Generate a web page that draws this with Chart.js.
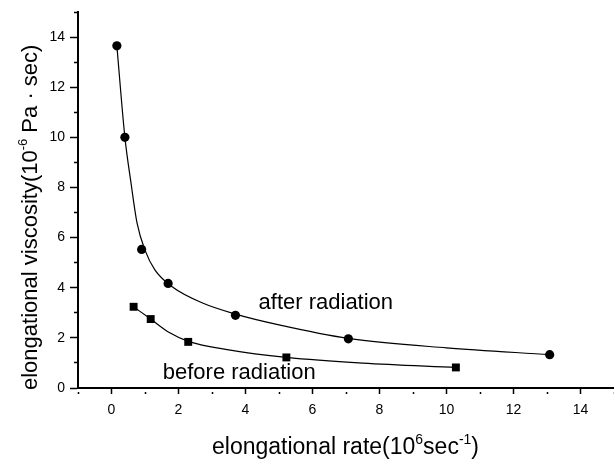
<!DOCTYPE html>
<html>
<head>
<meta charset="utf-8">
<script src="https://cdn.jsdelivr.net/npm/chart.js@4/dist/chart.umd.min.js"></script>
<style>
  html, body { margin: 0; padding: 0; background: #fff; }
</style>
</head>
<body>
<canvas id="chartVisc" width="614" height="461"></canvas>
<script>
// measured samples (rate in 10^6 1/s, viscosity in 10^-6 Pa.s)
const afterRate = [0.16, 0.40, 0.90, 1.69, 3.70, 7.07, 13.08];
const afterVisc = [13.65, 10.0, 5.53, 4.17, 2.90, 1.96, 1.33];
const beforeRate = [0.66, 1.17, 2.29, 5.22, 10.28];
const beforeVisc = [3.24, 2.75, 1.84, 1.22, 0.82];

// fitted curves
const afterFitRate = [0.16, 0.40, 0.58, 0.76, 1.0, 1.3, 1.8, 2.7, 3.7, 5.0, 7.07, 10.0, 13.08];
const afterFitVisc = [13.65, 10.0, 8.2, 6.6, 5.5, 4.7, 4.05, 3.4, 2.95, 2.52, 1.98, 1.6, 1.33];
const beforeFitRate = [0.66, 1.17, 1.74, 2.29, 3.5, 5.22, 7.5, 10.28];
const beforeFitVisc = [3.24, 2.75, 2.2, 1.86, 1.52, 1.22, 0.99, 0.82];

// curve labels, placed in data units
const curveLabels = ["after radiation", "before radiation"];
const curveLabelX = [4.39, 1.53];
const curveLabelY = [3.17, 0.37];

const fontFamily = "'Liberation Sans', Arial, sans-serif";

const toPoints = (xs, ys) => xs.map((x, i) => ({ x: x, y: ys[i] }));

// draws a run of text where some parts are superscript
function drawRich(ctx, parts, x, y, size) {
  let cx = x;
  parts.forEach((p) => {
    const s = p.sup ? Math.round(size * 0.6) : size;
    ctx.font = s + "px " + fontFamily;
    ctx.fillText(p.t, cx, p.sup ? y - size * 0.45 : y);
    cx += ctx.measureText(p.t).width;
  });
}

const textPlugin = {
  id: "textPlugin",
  afterDraw(chart) {
    const ctx = chart.ctx;
    const xs = chart.scales.x;
    const ys = chart.scales.y;
    ctx.save();
    ctx.fillStyle = "#000";
    ctx.textAlign = "left";
    ctx.textBaseline = "alphabetic";

    // curve labels
    ctx.font = "22px " + fontFamily;
    curveLabels.forEach((t, i) => {
      ctx.fillText(t, xs.getPixelForValue(curveLabelX[i]), ys.getPixelForValue(curveLabelY[i]));
    });

    // x axis title
    drawRich(ctx, [
      { t: "elongational rate(10" },
      { t: "6", sup: true },
      { t: "sec" },
      { t: "-1", sup: true },
      { t: ")" }
    ], 212, 454, 23);

    // y axis title, rotated
    ctx.translate(37, 390);
    ctx.rotate(-Math.PI / 2);
    drawRich(ctx, [
      { t: "elongational viscosity(10" },
      { t: "-6", sup: true },
      { t: " Pa \u00b7 sec)" }
    ], 0, 0, 22);
    ctx.restore();
  }
};

// minor ticks are drawn shorter by dashing off their outer part
const tickDash = (major, minor) => (c) =>
  c.tick && Math.abs(c.tick.value % 2) === 1 ? [0, major - minor, 20, 0] : [];

const evenLabel = (v) => (v % 2 === 0 ? v : "");

new Chart(document.getElementById("chartVisc"), {
  type: "scatter",
  data: {
    datasets: [
      {
        data: toPoints(afterRate, afterVisc),
        pointStyle: "circle",
        pointRadius: 4.6,
        backgroundColor: "#000",
        borderColor: "#000",
        borderWidth: 0,
        showLine: false
      },
      {
        data: toPoints(beforeRate, beforeVisc),
        pointStyle: "rect",
        pointRadius: 5.6,
        backgroundColor: "#000",
        borderColor: "#000",
        borderWidth: 0,
        showLine: false
      },
      {
        data: toPoints(afterFitRate, afterFitVisc),
        showLine: true,
        pointRadius: 0,
        borderColor: "#000",
        borderWidth: 1.2,
        cubicInterpolationMode: "monotone"
      },
      {
        data: toPoints(beforeFitRate, beforeFitVisc),
        showLine: true,
        pointRadius: 0,
        borderColor: "#000",
        borderWidth: 1.2,
        cubicInterpolationMode: "monotone"
      }
    ]
  },
  options: {
    responsive: false,
    animation: false,
    layout: {
      autoPadding: false,
      padding: { top: 12, right: 0, left: 0, bottom: 0 }
    },
    plugins: {
      legend: { display: false },
      tooltip: { enabled: false }
    },
    scales: {
      x: {
        type: "linear",
        min: -1,
        max: 15,
        afterFit: (s) => {
          s.height = 73;
          s.paddingLeft = 0;
          s.paddingRight = 0;
        },
        border: { display: true, color: "#000", width: 2 },
        grid: {
          drawOnChartArea: false,
          tickLength: 6,
          tickColor: "#000",
          tickWidth: 1.5,
          tickBorderDash: tickDash(6, 3)
        },
        ticks: {
          stepSize: 1,
          autoSkip: false,
          maxRotation: 0,
          padding: 8,
          color: "#000",
          font: { family: fontFamily, size: 14 },
          callback: evenLabel
        }
      },
      y: {
        type: "linear",
        min: 0,
        max: 15,
        afterFit: (s) => {
          s.width = 78;
          s.paddingTop = 0;
          s.paddingBottom = 0;
        },
        border: { display: true, color: "#000", width: 2 },
        grid: {
          drawOnChartArea: false,
          tickLength: 8,
          tickColor: "#000",
          tickWidth: 1.5,
          tickBorderDash: tickDash(8, 4)
        },
        ticks: {
          stepSize: 1,
          autoSkip: false,
          padding: 5,
          color: "#000",
          font: { family: fontFamily, size: 14 },
          callback: evenLabel
        }
      }
    }
  },
  plugins: [textPlugin]
});
</script>
</body>
</html>
